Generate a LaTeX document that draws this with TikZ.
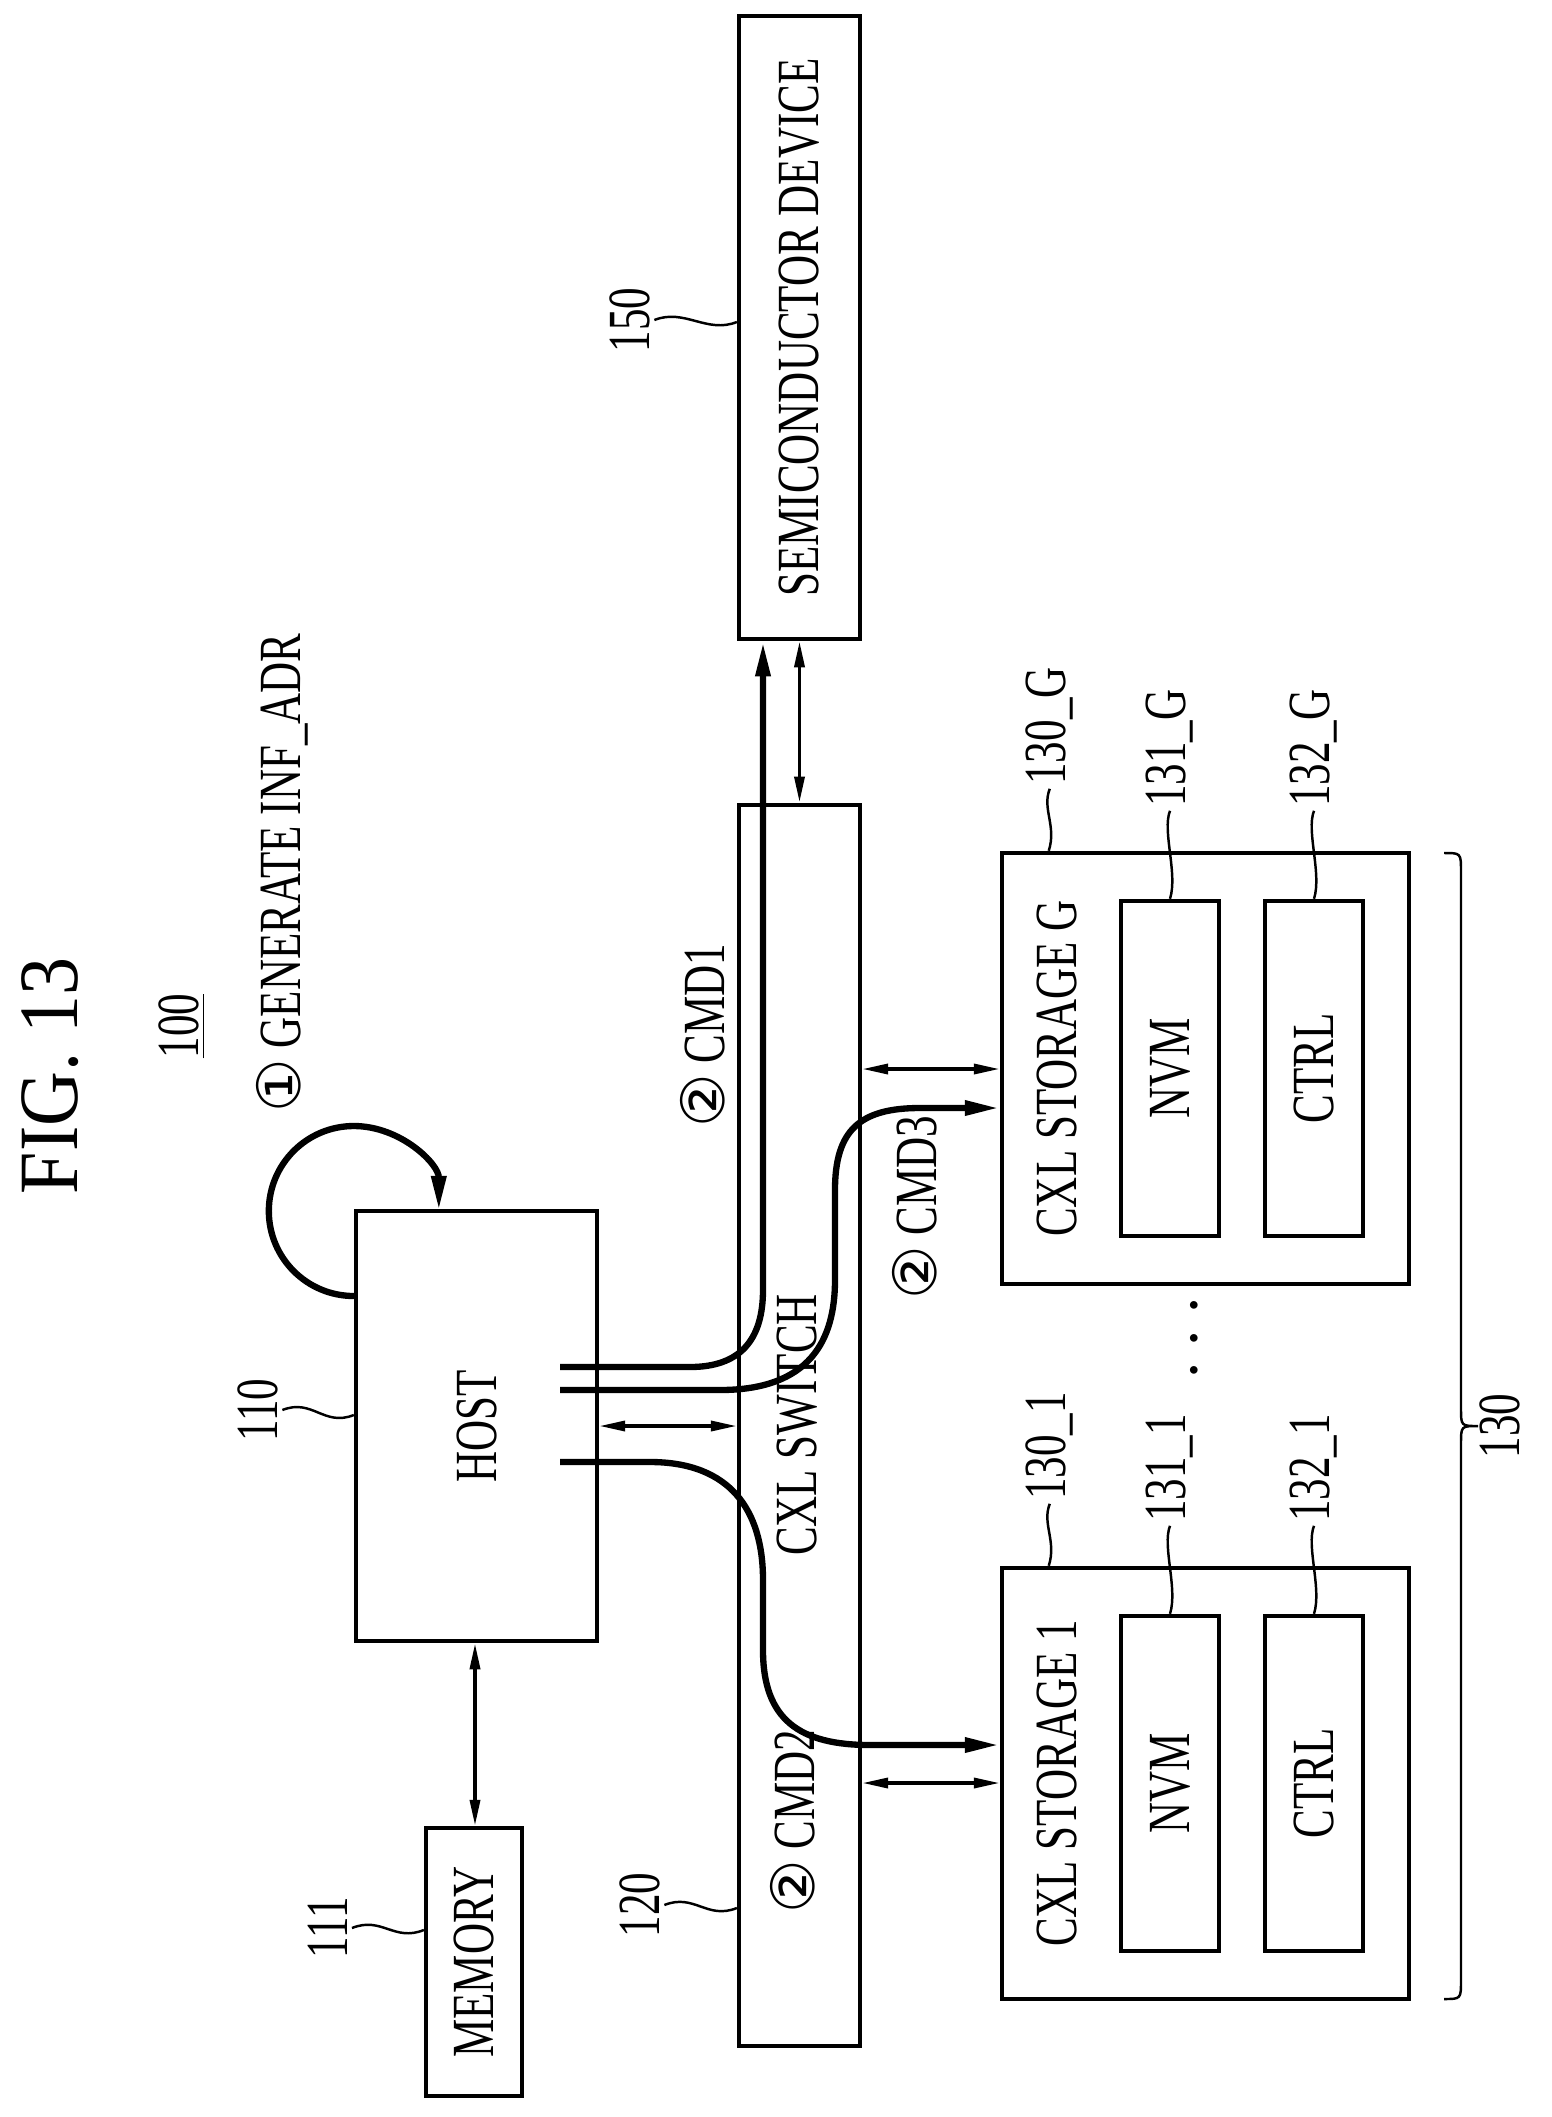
\documentclass[tikz,border=0pt]{standalone}
\usepackage{fontspec}
\setmainfont{Liberation Serif}[FakeStretch=0.72]
\newfontfamily\figfont{Liberation Serif}[FakeStretch=0.9]
\newfontfamily\circfont{DejaVu Sans}
\usetikzlibrary{arrows.meta,calc}
\newcommand{\stepno}[1]{{\circfont #1}}
\begin{document}
\begin{tikzpicture}[x=0.01cm, y=-0.01cm,
    blk/.style = {draw, line width=1.2pt, inner sep=0pt},
    txt/.style = {rotate=90, inner sep=1pt, font=\fontsize{17}{20}\selectfont},
    lead/.style = {line width=0.7pt},
    cmd/.style = {line width=1.8pt, -{Triangle[length=0.35cm, width=0.14cm]}},
    bus/.style = {line width=1pt, {Triangle[length=0.26cm, width=0.1cm]}-{Triangle[length=0.26cm, width=0.1cm]}}]
  \useasboundingbox (0,0) rectangle (1552,2117);
  % title and labels
  \node (fig) [txt, font=\figfont\fontsize{24}{28}\selectfont] at (50,1076) {FIG. 13};
  \node (sys) [txt] at (182,1026) {\underline{100}};
  \node (gen) [txt] at (282,873) {\stepno{①} GENERATE INF\_ADR};
  % blocks
  \node (semi) [blk, minimum width=1.21cm, minimum height=6.23cm] at (799.5,327.5) {};
  \node [txt] at (semi.center) {SEMICONDUCTOR DEVICE};
  \node (sw) [blk, minimum width=1.21cm, minimum height=12.41cm] at (799.5,1425.5) {};
  \node [txt] at (797,1425) {CXL SWITCH};
  \node (host) [blk, minimum width=2.41cm, minimum height=4.30cm] at (476.5,1426) {};
  \node [txt] at (host.center) {HOST};
  \node (mem) [blk, minimum width=0.96cm, minimum height=2.68cm] at (474,1962) {};
  \node [txt] at (mem.center) {MEMORY};
  \foreach \n/\yc/\t in {G/1068.5/CXL STORAGE G, 1/1783.5/CXL STORAGE 1}{
    \node (sto\n) [blk, minimum width=4.07cm, minimum height=4.31cm] at (1205.5,\yc) {};
    \node [txt] at (1057,\yc) {\t};
    \node (nvm\n) [blk, minimum width=0.98cm, minimum height=3.35cm] at (1170,\yc) {};
    \node [txt] at (nvm\n.center) {NVM};
    \node (ctrl\n) [blk, minimum width=0.98cm, minimum height=3.35cm] at (1314,\yc) {};
    \node [txt] at (ctrl\n.center) {CTRL};
    \node (l130\n) [txt, anchor=west] at ($(sto\n.north west)+(50,-62)$) {130\_\n};
    \node (l131\n) [txt, anchor=west] at ($(nvm\n.north)+(0,-88)$) {131\_\n};
    \node (l132\n) [txt, anchor=west] at ($(ctrl\n.north)+(0,-88)$) {132\_\n};
    \draw[lead] (l130\n.west) .. controls +(-8,20) and +(8,-25) .. ($(sto\n.north west)+(49,0)$);
    \draw[lead] (l131\n.west) .. controls +(-8,20) and +(8,-25) .. (nvm\n.north);
    \draw[lead] (l132\n.west) .. controls +(-8,20) and +(8,-25) .. (ctrl\n.north);
  }
  \node (dots) [txt] at (1196,1338) {\huge$\cdots$};
  % reference numerals
  \node (l110) [txt] at (258,1410) {110};
  \node (l111) [txt] at (328,1928) {111};
  \node (l120) [txt] at (640,1905) {120};
  \node (l150) [txt] at (630,320) {150};
  \draw[lead] (l110.south) .. controls +(30,-12) and +(-30,12) .. (host.west |- 0,1415);
  \draw[lead] (l111.south) .. controls +(30,-12) and +(-30,12) .. (mem.west |- 0,1930);
  \draw[lead] (l120.south) .. controls +(30,-12) and +(-30,12) .. (sw.west |- 0,1908);
  \draw[lead] (l150.south) .. controls +(30,-12) and +(-30,12) .. (semi.west |- 0,322);
  % brace
  \node (l130) [txt] at (1500,1426) {130};
  \draw[lead] (1444,853) .. controls (1461,853) .. (1461,872) -- (1461,1408)
    .. controls (1461,1426) .. (1478,1426) .. controls (1461,1426) .. (1461,1444)
    -- (1461,1980) .. controls (1461,1999) .. (1444,1999);
  % step labels
  \node (c1) [txt] at (703,1036) {\stepno{②} CMD1};
  \node (c2) [txt] at (793,1822) {\stepno{②} CMD2};
  \node (c3) [txt] at (915,1208) {\stepno{②} CMD3};
  % plain links
  \draw[bus] (host.east |- 0,1426) -- (sw.west |- 0,1426);
  \draw[bus] (host.south -| 475,0) -- (mem.north -| 475,0);
  \draw[bus] (semi.south) -- (sw.north);
  \draw[bus] (sw.east |- 0,1069) -- (stoG.west |- 0,1069);
  \draw[bus] (sw.east |- 0,1783) -- (sto1.west |- 0,1783);
  % commands
  \draw[cmd] (host.west) ++(0,-130) arc[start angle=90, end angle=360, radius=85];
  \coordinate (h1) at (560,1367);
  \coordinate (h2) at (560,1390);
  \coordinate (h3) at (560,1462);
  \draw[cmd] (h1) -- (690,1367) .. controls (740,1367) and (763,1340) .. (763,1290)
    -- (semi.south -| 763,0);
  \draw[cmd] (h2) -- (720,1390) .. controls (810,1390) and (835,1340) .. (835,1280)
    -- (835,1190) .. controls (835,1130) and (860,1108) .. (920,1108) -- (stoG.west |- 0,1108);
  \draw[cmd] (h3) -- (650,1462) .. controls (730,1462) and (763,1510) .. (763,1580)
    -- (763,1650) .. controls (763,1720) and (800,1745) .. (870,1745) -- (sto1.west |- 0,1745);
\end{tikzpicture}
\end{document}
